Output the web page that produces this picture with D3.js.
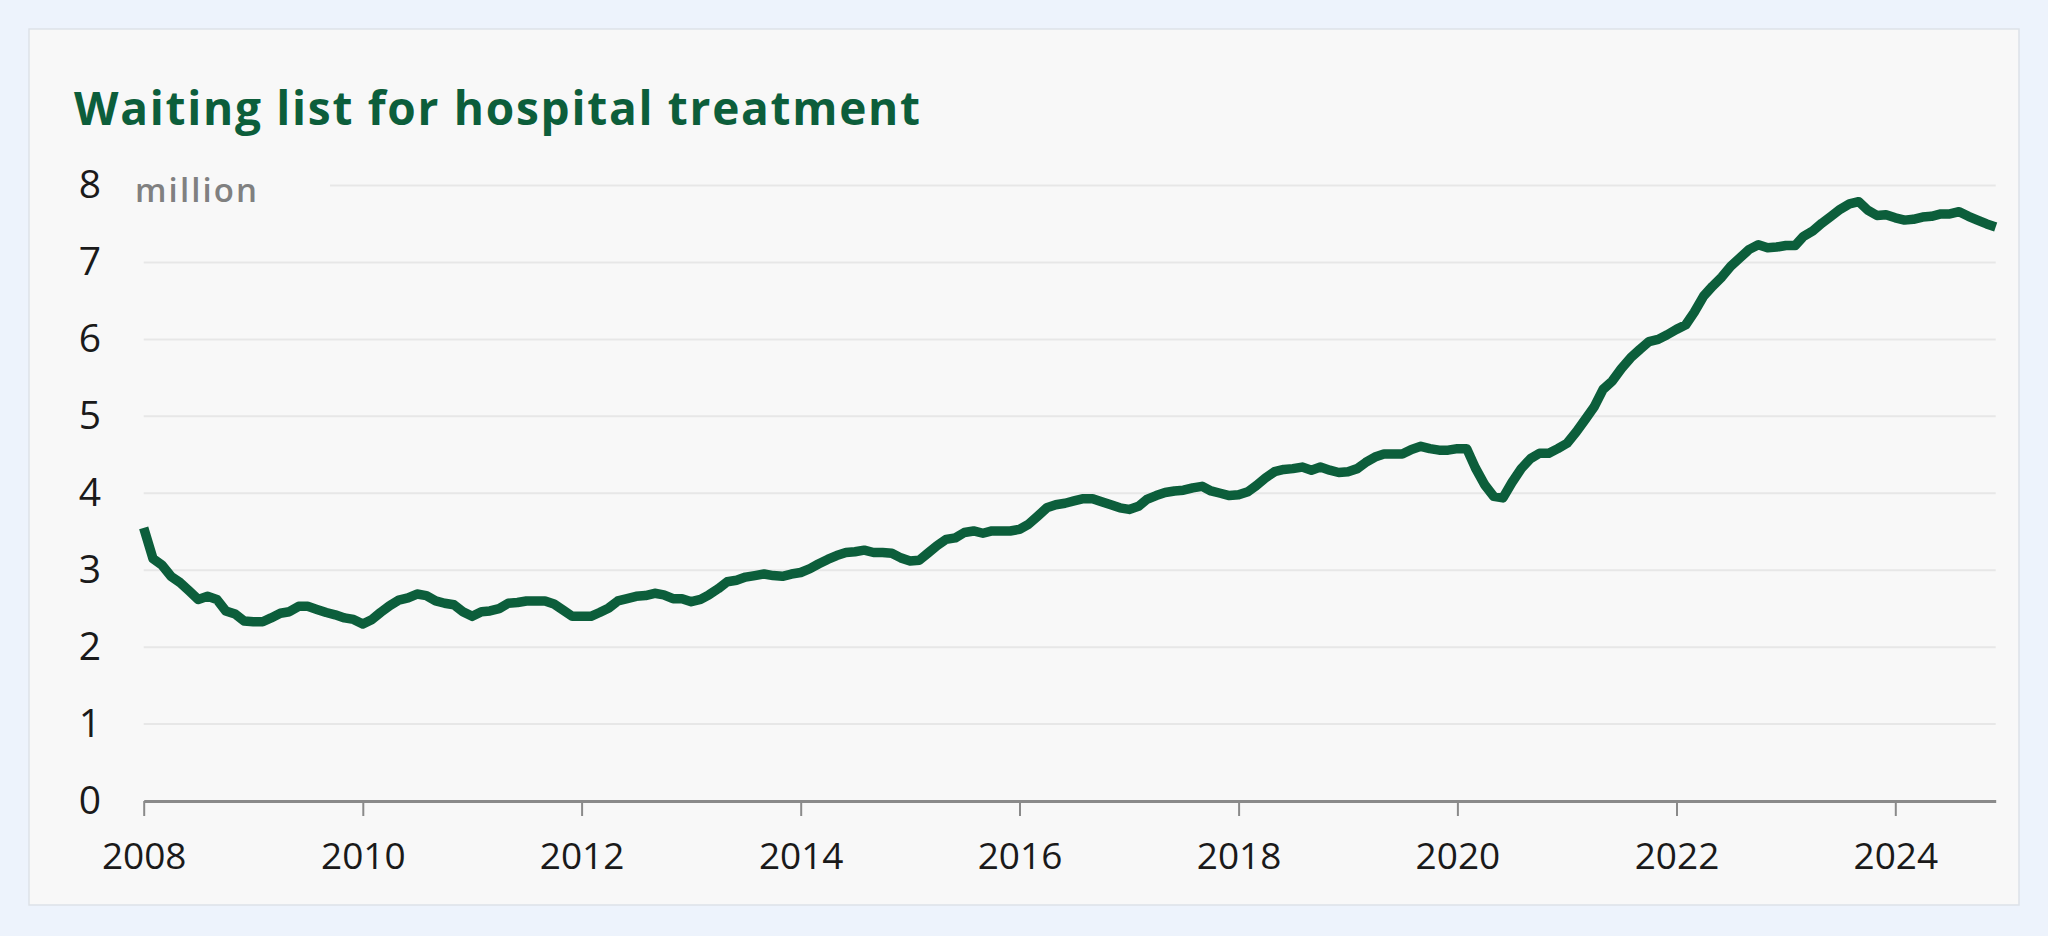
<!DOCTYPE html>
<html>
<head>
<meta charset="utf-8">
<script src="https://cdn.jsdelivr.net/npm/d3@7"></script>
<style>
  html, body { margin: 0; padding: 0; background: #edf3fc; }
  svg { display: block; }
</style>
</head>
<body>
<svg id="chart" width="2048" height="936"></svg>
<script>
// ---- Data (monthly, Jan 2008 – Dec 2024), millions ----
const title = "Waiting list for hospital treatment";
const unitLabel = "million";
const startYear = 2008;
const startMonth = 0; // January
const waitingList = [
  3.55, 3.15, 3.07, 2.92, 2.84, 2.73, 2.62, 2.66, 2.62, 2.47, 2.43, 2.34,
  2.33, 2.33, 2.38, 2.44, 2.46, 2.53, 2.53, 2.49, 2.45, 2.42, 2.38, 2.36,
  2.30, 2.36, 2.45, 2.54, 2.61, 2.64, 2.69, 2.67, 2.60, 2.57, 2.55, 2.46,
  2.40, 2.46, 2.47, 2.50, 2.57, 2.58, 2.60, 2.60, 2.60, 2.56, 2.48, 2.40,
  2.40, 2.40, 2.45, 2.51, 2.60, 2.63, 2.66, 2.67, 2.70, 2.68, 2.63, 2.63,
  2.59, 2.62, 2.68, 2.76, 2.85, 2.87, 2.91, 2.93, 2.95, 2.93, 2.92, 2.95,
  2.97, 3.02, 3.08, 3.14, 3.19, 3.23, 3.24, 3.26, 3.23, 3.23, 3.22, 3.16,
  3.12, 3.13, 3.22, 3.32, 3.40, 3.42, 3.49, 3.51, 3.48, 3.51, 3.51, 3.51,
  3.53, 3.60, 3.70, 3.81, 3.85, 3.87, 3.90, 3.93, 3.93, 3.89, 3.85, 3.81,
  3.79, 3.83, 3.92, 3.97, 4.01, 4.03, 4.04, 4.07, 4.09, 4.03, 4.00, 3.97,
  3.98, 4.02, 4.10, 4.20, 4.28, 4.31, 4.32, 4.34, 4.30, 4.34, 4.30, 4.27,
  4.28, 4.32, 4.40, 4.47, 4.51, 4.51, 4.51, 4.57, 4.61, 4.58, 4.56, 4.56,
  4.58, 4.58, 4.33, 4.11, 3.96, 3.94, 4.14, 4.32, 4.45, 4.52, 4.52, 4.58,
  4.65, 4.80, 4.95, 5.12, 5.35, 5.46, 5.62, 5.76, 5.87, 5.97, 6.00, 6.06,
  6.13, 6.19, 6.35, 6.56, 6.69, 6.81, 6.95, 7.06, 7.17, 7.23, 7.19, 7.20,
  7.22, 7.22, 7.34, 7.41, 7.51, 7.60, 7.69, 7.76, 7.79, 7.68, 7.61, 7.62,
  7.58, 7.55, 7.56, 7.59, 7.60, 7.63, 7.63, 7.66, 7.60, 7.55, 7.50, 7.46
];
const yTicks = [0, 1, 2, 3, 4, 5, 6, 7, 8];
const xTickYears = [2008, 2010, 2012, 2014, 2016, 2018, 2020, 2022, 2024];

// ---- Layout ----
const W = 2048, H = 936;
const card = { x: 29, y: 29, w: 1990, h: 876 };
const plot = { left: 143.7, right: 1995.7, top: 185.5, bottom: 801 };

const svg = d3.select("#chart");

svg.append("rect").attr("x", 0).attr("y", 0).attr("width", W).attr("height", H).attr("fill", "#edf3fc");
svg.append("rect")
  .attr("x", card.x).attr("y", card.y).attr("width", card.w).attr("height", card.h)
  .attr("fill", "#f8f8f8").attr("stroke", "#dde2e8").attr("stroke-width", 1.5);

svg.append("text")
  .attr("x", 74).attr("y", 125)
  .attr("font-family", "'Open Sans', Lato, sans-serif")
  .attr("font-weight", 700)
  .attr("font-size", 46)
  .attr("textLength", 846)
  .attr("lengthAdjust", "spacing")
  .attr("fill", "#0c5e3b")
  .text(title);

const series = waitingList.map((v, i) => ({
  date: new Date(startYear, startMonth + i, 1),
  value: v
}));

const x = d3.scaleTime()
  .domain([series[0].date, series[series.length - 1].date])
  .range([plot.left, plot.right]);
const y = d3.scaleLinear().domain([0, 8]).range([plot.bottom, plot.top]);

// gridlines
const grid = svg.append("g");
grid.selectAll("line")
  .data(yTicks.filter(t => t > 0))
  .join("line")
  .attr("x1", d => d === 8 ? 330 : plot.left)
  .attr("x2", plot.right)
  .attr("y1", d => y(d)).attr("y2", d => y(d))
  .attr("stroke", "#e7e7e7").attr("stroke-width", 2);

// y axis labels
const yAxis = d3.axisLeft(y).tickValues(yTicks).tickSize(0).tickPadding(0).tickFormat(d3.format("d"));
const gy = svg.append("g").attr("transform", `translate(101,0)`).call(yAxis);
gy.select(".domain").remove();
gy.selectAll("text")
  .attr("font-family", "'Open Sans', sans-serif")
  .attr("font-weight", 400)
  .attr("font-size", 39)
  .attr("fill", "#1a1a1a");

// "million" unit label
svg.append("text")
  .attr("x", 135).attr("y", 202)
  .attr("font-family", "'Open Sans', sans-serif")
  .attr("font-weight", 600)
  .attr("font-size", 33)
  .attr("textLength", 122)
  .attr("lengthAdjust", "spacing")
  .attr("fill", "#808080")
  .text(unitLabel);

// x axis
const xAxis = d3.axisBottom(x)
  .tickValues(xTickYears.map(yr => new Date(yr, 0, 1)))
  .tickSize(15).tickSizeOuter(0).tickPadding(27)
  .tickFormat(d3.timeFormat("%Y"));
const gx = svg.append("g").attr("transform", `translate(0,${plot.bottom})`).call(xAxis);
gx.select(".domain").attr("stroke", "#8a8a8a").attr("stroke-width", 3);
gx.selectAll(".tick line").attr("stroke", "#8a8a8a").attr("stroke-width", 2);
gx.selectAll("text")
  .attr("font-family", "'Open Sans', sans-serif")
  .attr("font-weight", 400)
  .attr("font-size", 37)
  .attr("fill", "#1a1a1a");

// line
const line = d3.line().x(d => x(d.date)).y(d => y(d.value));
svg.append("path")
  .datum(series)
  .attr("fill", "none")
  .attr("stroke", "#0c5e3b")
  .attr("stroke-width", 9.5)
  .attr("stroke-linejoin", "round")
  .attr("stroke-linecap", "butt")
  .attr("d", line);
</script>
</body>
</html>
